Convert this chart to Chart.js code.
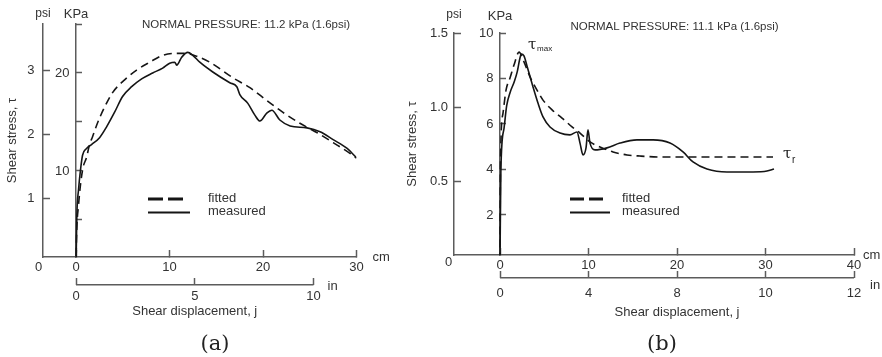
<!DOCTYPE html>
<html>
<head>
<meta charset="utf-8">
<script src="https://cdn.jsdelivr.net/npm/chart.js@4/dist/chart.umd.min.js"></script>
<style>
  html, body { margin: 0; padding: 0; background: #fff; }
  #fig { position: relative; width: 882px; height: 357px; overflow: hidden; }
  canvas { position: absolute; top: 0; }
  #panelA { left: 0; }
  #panelB { left: 400px; }
  .cap { position: absolute; top: 331px; line-height: 24px; font: 21px 'DejaVu Serif', serif; color: #222; transform: translateX(-50%); }
</style>
</head>
<body>
<div id="fig">
  <canvas id="panelA" width="400" height="357"></canvas>
  <canvas id="panelB" width="482" height="357"></canvas>
  <div class="cap" style="left:215px">(a)</div>
  <div class="cap" style="left:662px">(b)</div>
</div>
<script>
// ---------- panel (a): normal pressure 11.2 kPa ----------
const headingA = 'NORMAL PRESSURE: 11.2 kPa (1.6psi)';
const dispFittedA = [0, 0.05, 0.27, 0.7, 1.13, 1.45, 1.77, 2.3, 3.05, 3.91, 5.2, 6.48, 7.88, 9.27, 10.56, 11.63, 12.92, 14.31, 16.8, 18.6, 20.4, 22.1, 23.9, 25.8, 27.5, 29.3, 30.0];
const stressFittedA = [0, 3.0, 6.5, 10.1, 11.4, 12.7, 13.5, 14.9, 16.5, 18.0, 19.3, 20.3, 21.1, 21.8, 22.0, 22.0, 21.7, 21.1, 19.5, 18.5, 17.2, 16.0, 14.9, 13.9, 12.9, 11.8, 11.3];
const dispMeasuredA = [0, 0.09, 0.27, 0.48, 0.7, 1.13, 1.66, 2.52, 3.27, 4.13, 4.98, 5.95, 7.02, 8.2, 9.27, 10.02, 10.56, 10.77, 11.3, 11.95, 12.49, 13.24, 14.63, 16.45, 17.2, 17.52, 18.38, 19.13, 19.67, 20.4, 20.95, 21.8, 22.9, 24.7, 26.1, 27.5, 29.0, 29.95];
const stressMeasuredA = [0, 5.4, 8.1, 10.1, 11.6, 12.3, 12.7, 13.4, 14.5, 16.0, 17.6, 18.6, 19.4, 20.0, 20.5, 21.0, 21.1, 20.8, 21.6, 22.1, 21.8, 21.1, 20.1, 19.0, 18.6, 17.8, 16.9, 15.7, 15.1, 15.9, 16.2, 15.2, 14.6, 14.4, 14.0, 13.2, 12.3, 11.4];
const psiTicksA = [1, 2, 3];
const psiLabelsA = ['1', '2', '3'];
const kpaTicksA = [5, 10, 15, 20, 25];
const kpaLabelsA = ['', '10', '', '20', ''];
const cmTicksA = [0, 10, 20, 30];
const cmLabelsA = ['0', '10', '20', '30'];
const inchTicksA = [0, 5, 10];
const inchLabelsA = ['0', '5', '10'];

// ---------- panel (b): normal pressure 11.1 kPa ----------
const headingB = 'NORMAL PRESSURE: 11.1 kPa (1.6psi)';
const dispFittedB = [0, 0.05, 0.34, 0.68, 1.13, 1.58, 2.15, 2.71, 3.39, 4.18, 4.86, 5.88, 7.01, 8.14, 9.04, 10.17, 11.3, 12.77, 14.35, 15.82, 18.08, 30.85];
const stressFittedB = [0, 4.2, 6.48, 7.49, 8.02, 8.59, 9.16, 8.73, 8.07, 7.49, 7.05, 6.62, 6.26, 5.87, 5.6, 5.21, 4.99, 4.77, 4.64, 4.59, 4.55, 4.55];
const dispMeasuredB = [0, 0.1, 0.45, 0.75, 1.15, 1.6, 1.95, 2.2, 2.4, 2.71, 3.05, 3.73, 4.29, 4.86, 5.65, 6.78, 7.91, 8.7, 9.04, 9.38, 9.72, 9.94, 10.17, 10.73, 12.09, 13.56, 15.48, 17.29, 19.21, 20.68, 21.81, 23.39, 25.65, 28.59, 30.17, 30.96];
const stressMeasuredB = [0, 4.0, 5.8, 6.8, 7.4, 7.85, 8.3, 8.8, 9.08, 8.99, 8.55, 7.63, 6.92, 6.31, 5.87, 5.6, 5.52, 5.65, 5.16, 4.64, 4.95, 5.74, 5.16, 4.86, 4.95, 5.16, 5.3, 5.3, 5.16, 4.77, 4.33, 4.02, 3.89, 3.89, 3.93, 4.02];
const psiTicksB = [0.5, 1.0, 1.5];
const psiLabelsB = ['0.5', '1.0', '1.5'];
const kpaTicksB = [2, 4, 6, 8, 10];
const kpaLabelsB = ['2', '4', '6', '8', '10'];
const cmTicksB = [0, 10, 20, 30, 40];
const cmLabelsB = ['0', '10', '20', '30', '40'];
// inch labels as printed under the cm marks
const inchTickPosB = [0, 10, 20, 30, 40];
const inchLabelsB = ['0', '4', '8', '10', '12'];

const seriesNames = ['fitted', 'measured'];

Chart.defaults.font.family = "'Liberation Sans', Arial, sans-serif";
Chart.defaults.font.size = 13;
Chart.defaults.color = '#333';

const AXIS = '#5c5c5c';
const INK = '#151515';

function pts(xs, ys) { return xs.map((x, i) => ({ x, y: ys[i] })); }
function fixedTicks(values) { return s => { s.ticks = values.map(v => ({ value: v })); }; }

// extra marks: inch baseline, unit names, heading, legend, tau notes
const figureMarks = {
  id: 'figureMarks',
  afterDraw(chart, _args, o) {
    const { ctx, chartArea: area, scales } = chart;
    const { cm, inch, psi, kpa } = scales;
    const fam = "'Liberation Sans', Arial, sans-serif";
    const text = (s, x, y, size, align) => {
      ctx.font = size + 'px ' + fam;
      ctx.textAlign = align || 'center';
      ctx.textBaseline = 'middle';
      ctx.fillText(s, x, y);
    };
    ctx.save();
    ctx.fillStyle = '#333';
    ctx.strokeStyle = AXIS;
    ctx.lineWidth = 1.5;

    // inch scale baseline between its end marks
    const it = inch.ticks;
    const ix0 = inch.getPixelForValue(it[0].value);
    const ix1 = inch.getPixelForValue(it[it.length - 1].value);
    const iy = Math.round(inch.top - 0.75) + 0.75;
    ctx.beginPath();
    ctx.moveTo(ix0, iy);
    ctx.lineTo(ix1, iy);
    ctx.stroke();

    text('Shear displacement, j', (ix0 + ix1) / 2, o.xTitleY, 13);
    text('in', ix1 + o.inDx, iy + o.inDy, 13, 'left');
    text('cm', area.right + o.cmDx, cm.top, 13, 'left');
    text('0', psi.right - o.zeroDx, area.bottom + o.zeroDy, 13);
    text('psi', psi.right, o.unitY, 12);
    text('KPa', cm.getPixelForValue(0), o.unitY + o.kpaDy, 13);
    text(o.heading, o.headingX, o.headingY, 11.5);

    // legend
    const lg = o.legend;
    chart.data.datasets.forEach((ds, i) => {
      const y = lg.y + i * lg.row;
      ctx.beginPath();
      ctx.strokeStyle = INK;
      ctx.lineWidth = lg.widths[i];
      ctx.setLineDash(lg.dashes[i]);
      ctx.moveTo(lg.x, y);
      ctx.lineTo(lg.x + lg.lens[i], y);
      ctx.stroke();
      ctx.setLineDash([]);
      text(ds.label, lg.textX, y - 1, 13, 'left');
    });

    // tau annotations at the fitted peak and the residual level
    if (o.tau) {
      const fit = chart.data.datasets[0].data;
      let pk = fit[0];
      fit.forEach(p => { if (p.y > pk.y) pk = p; });
      const px = cm.getPixelForValue(pk.x), py = kpa.getPixelForValue(pk.y);
      const last = fit[fit.length - 1];
      const lx = cm.getPixelForValue(last.x), ly = kpa.getPixelForValue(last.y);
      ctx.fillStyle = '#222';
      ctx.font = "15px 'DejaVu Serif', serif";
      ctx.textAlign = 'left';
      ctx.textBaseline = 'middle';
      ctx.fillText('\u03C4', px + 9, py - 7);
      ctx.fillText('\u03C4', lx + 10, ly - 3);
      ctx.font = '8px ' + fam;
      ctx.fillText('max', px + 18, py - 3);
      ctx.font = '10px ' + fam;
      ctx.fillText('r', lx + 19, ly + 3);
    }
    ctx.restore();
  }
};

function makePanel(canvas, p) {
  const tickGrid = { display: true, drawOnChartArea: false, drawTicks: true, tickLength: -7, tickColor: AXIS, tickWidth: 1.5 };
  const border = { display: true, color: AXIS, width: 1.5 };
  return new Chart(canvas, {
    type: 'line',
    data: {
      datasets: [
        { label: seriesNames[0], data: pts(p.fitted[0], p.fitted[1]), xAxisID: 'cm', yAxisID: 'kpa',
          borderColor: INK, borderWidth: 1.6, borderDash: [8, 5], pointRadius: 0, cubicInterpolationMode: 'monotone', fill: false },
        { label: seriesNames[1], data: pts(p.measured[0], p.measured[1]), xAxisID: 'cm', yAxisID: 'kpa',
          borderColor: INK, borderWidth: 1.6, pointRadius: 0, cubicInterpolationMode: 'monotone', fill: false }
      ]
    },
    options: {
      responsive: false,
      animation: false,
      devicePixelRatio: 1,
      events: [],
      layout: { padding: p.pad },
      plugins: { legend: { display: false }, tooltip: { enabled: false }, figureMarks: p.marks },
      scales: {
        cm: {
          type: 'linear', axis: 'x', position: 'bottom', weight: 0, bounds: 'data',
          min: p.cmRange[0], max: p.cmRange[1],
          afterBuildTicks: fixedTicks(p.cmTicks),
          afterFit: s => { s.height = p.cmHeight; },
          ticks: { autoSkip: false, maxRotation: 0, padding: p.cmPad, callback: (v, i) => p.cmLabels[i] },
          grid: tickGrid, border
        },
        inch: {
          type: 'linear', axis: 'x', position: 'bottom', weight: 1, bounds: 'data',
          min: p.inchRange[0], max: p.inchRange[1],
          afterBuildTicks: fixedTicks(p.inchTicks),
          afterFit: s => { s.height = p.inchHeight; },
          ticks: { autoSkip: false, maxRotation: 0, padding: p.inchPad, callback: (v, i) => p.inchLabels[i] },
          grid: tickGrid, border: { display: false }
        },
        psi: {
          type: 'linear', axis: 'y', position: 'left', bounds: 'data',
          min: p.psiRange[0], max: p.psiRange[1],
          afterBuildTicks: fixedTicks(p.psiTicks),
          afterFit: s => { s.width = p.psiWidth; },
          ticks: { autoSkip: false, padding: p.psiPad, callback: (v, i) => p.psiLabels[i] },
          title: { display: true, text: 'Shear stress, \u03C4', font: { size: 13 }, color: '#333', padding: { top: 5, bottom: 0 } },
          grid: tickGrid, border
        },
        kpa: {
          // sits on the zero of the cm scale; an en space keeps labels clear of the line
          type: 'linear', axis: 'y', position: { cm: 0 }, bounds: 'data',
          min: p.kpaRange[0], max: p.kpaRange[1],
          afterBuildTicks: fixedTicks(p.kpaTicks),
          ticks: { autoSkip: false, callback: (v, i) => (p.kpaLabels[i] ? p.kpaLabels[i] + '\u2002' : '') },
          grid: tickGrid, border
        }
      }
    },
    plugins: [figureMarks]
  });
}

makePanel(document.getElementById('panelA'), {
  fitted: [dispFittedA, stressFittedA],
  measured: [dispMeasuredA, stressMeasuredA],
  pad: { left: 0, top: 24, right: 43.5, bottom: 32 },
  cmRange: [-3.53, 30], cmTicks: cmTicksA, cmLabels: cmLabelsA, cmHeight: 28, cmPad: 9.7,
  inchRange: [-3.53 / 2.54, 30 / 2.54], inchTicks: inchTicksA, inchLabels: inchLabelsA, inchHeight: 40, inchPad: 10.2,
  psiRange: [0.078, 3.72], psiTicks: psiTicksA, psiLabels: psiLabelsA, psiWidth: 43, psiPad: 15.5,
  kpaRange: [1.22, 25], kpaTicks: kpaTicksA, kpaLabels: kpaLabelsA,
  marks: {
    heading: headingA, headingX: 246, headingY: 25,
    xTitleY: 311, inDx: 14, inDy: 2, cmDx: 16, zeroDx: 4.5, zeroDy: 10,
    unitY: 14, kpaDy: 0,
    legend: { x: 148, y: 199, row: 13.5, textX: 208, lens: [35, 42], widths: [3, 2], dashes: [[15, 5], []] },
    tau: false
  }
});

makePanel(document.getElementById('panelB'), {
  fitted: [dispFittedB, stressFittedB],
  measured: [dispMeasuredB, stressMeasuredB],
  pad: { left: 0, top: 33, right: 28, bottom: 39 },
  cmRange: [-5.198, 40], cmTicks: cmTicksB, cmLabels: cmLabelsB, cmHeight: 23, cmPad: 9.2,
  inchRange: [-5.198, 40], inchTicks: inchTickPosB, inchLabels: inchLabelsB, inchHeight: 40, inchPad: 14.2,
  psiRange: [0, 1.5], psiTicks: psiTicksB, psiLabels: psiLabelsB, psiWidth: 54, psiPad: 13,
  kpaRange: [0.24, 10], kpaTicks: kpaTicksB, kpaLabels: kpaLabelsB,
  marks: {
    heading: headingB, headingX: 274.5, headingY: 27,
    xTitleY: 312, inDx: 16, inDy: 8, cmDx: 9, zeroDx: 5.5, zeroDy: 7.5,
    unitY: 15, kpaDy: 1,
    legend: { x: 170, y: 199, row: 13.5, textX: 222, lens: [33, 40], widths: [3, 2], dashes: [[14, 5], []] },
    tau: true
  }
});
</script>
</body>
</html>
